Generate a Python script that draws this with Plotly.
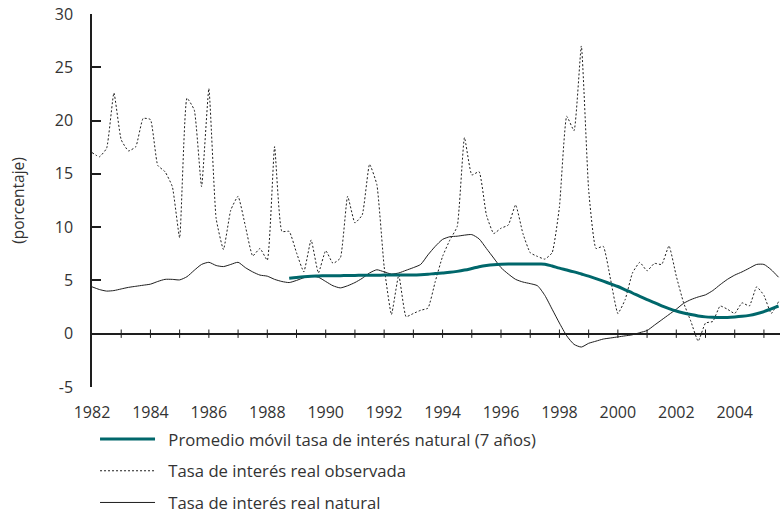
import plotly.graph_objects as go

# Quarterly observations, 1982Q1 .. 2005Q3
start_year = 1982.0
observada = [
    17.0, 16.6, 17.4, 22.6, 18.2, 17.15, 17.55, 20.2,      # 1982-1983
    20.1, 15.8, 15.2, 13.8, 9.0, 22.1, 21.0, 13.8,         # 1984-1985
    23.0, 10.8, 7.9, 11.6, 12.9, 10.1, 7.3, 8.0,           # 1986-1987
    6.9, 17.55, 9.6, 9.6, 7.6, 5.8, 8.8, 5.7,              # 1988-1989
    7.8, 6.6, 7.1, 12.9, 10.4, 11.15, 15.9, 14.0,          # 1990-1991
    6.3, 1.8, 5.5, 1.6, 1.9, 2.2, 2.4, 4.9,                # 1992-1993
    7.25, 8.8, 10.05, 18.4, 14.9, 15.2, 11.15, 9.4,        # 1994-1995
    9.9, 10.2, 12.1, 9.4, 7.6, 7.25, 7.0, 7.6,             # 1996-1997
    11.9, 20.4, 19.05, 27.0, 13.5, 8.0, 8.2, 5.1,          # 1998-1999
    1.9, 3.2, 5.7, 6.7, 5.9, 6.6, 6.5, 8.25,               # 2000-2001
    5.4, 2.9, 1.15, -0.7, 1.0, 1.15, 2.6, 2.3,             # 2002-2003
    1.9, 2.9, 2.6, 4.4, 3.6, 1.9, 3.0,                     # 2004-2005
]
natural = [
    4.4, 4.15, 4.0, 4.05, 4.2, 4.35, 4.45, 4.55,
    4.65, 4.9, 5.1, 5.1, 5.05, 5.35, 5.95, 6.5,
    6.7, 6.4, 6.3, 6.5, 6.7, 6.2, 5.8, 5.5,
    5.4, 5.1, 4.9, 4.8, 5.0, 5.25, 5.4, 5.3,
    4.9, 4.5, 4.3, 4.5, 4.8, 5.2, 5.7, 6.0,
    5.8, 5.6, 5.7, 5.95, 6.2, 6.5, 7.4, 8.2,
    8.85, 9.1, 9.15, 9.25, 9.3, 8.9, 8.0, 7.1,
    6.2, 5.6, 5.1, 4.85, 4.7, 4.5, 3.6, 2.3,
    1.0, -0.2, -1.0, -1.25, -0.9, -0.7, -0.5, -0.4,
    -0.3, -0.2, -0.1, 0.1, 0.3, 0.8, 1.3, 1.8,
    2.3, 2.85, 3.2, 3.45, 3.65, 4.05, 4.6, 5.1,
    5.5, 5.8, 6.15, 6.5, 6.5, 6.0, 5.3,
]
# 7-year moving average, available from 1988Q4
ma_start_year = 1988.75
promedio_movil = [
    5.2, 5.28, 5.35, 5.4, 5.42, 5.44, 5.45, 5.45,          # 1988Q4-1990Q3
    5.46, 5.47, 5.48, 5.48, 5.49, 5.5, 5.5, 5.5,           # 1990Q4-1992Q3
    5.5, 5.5, 5.53, 5.58, 5.65, 5.7, 5.76, 5.85,           # 1992Q4-1994Q3
    5.97, 6.12, 6.28, 6.4, 6.48, 6.52, 6.53, 6.53,         # 1994Q4-1996Q3
    6.53, 6.53, 6.53, 6.52, 6.35, 6.15, 5.98, 5.8,         # 1996Q4-1998Q3
    5.6, 5.4, 5.17, 4.93, 4.68, 4.43, 4.12, 3.82,          # 1998Q4-2000Q3
    3.5, 3.2, 2.92, 2.62, 2.36, 2.13, 1.95, 1.8,           # 2000Q4-2002Q3
    1.67, 1.58, 1.54, 1.52, 1.53, 1.57, 1.63, 1.72,        # 2002Q4-2004Q3
    1.87, 2.07, 2.33, 2.6,                                 # 2004Q4-2005Q3
]
year_ticks = list(range(1982, 2005, 2))
minor_years = list(range(1983, 2006))
y_ticks = list(range(-5, 31, 5))

x_obs = [start_year + 0.25 * i for i in range(len(observada))]
x_nat = [start_year + 0.25 * i for i in range(len(natural))]
x_ma = [ma_start_year + 0.25 * i for i in range(len(promedio_movil))]

FONT = "Open Sans"
TEAL = "#00676b"
INK = "#1e1e1e"
LABEL = "#333333"
PAD = "\u2002"  # small lead-in so labels sit clear of the line samples

fig = go.Figure()

fig.add_trace(go.Scatter(
    x=x_nat, y=natural, mode="lines", name=PAD + "Tasa de interés real natural",
    line=dict(color=INK, width=1, shape="spline", smoothing=0.6),
    legendrank=3, legendgroup="c",
))
fig.add_trace(go.Scatter(
    x=x_obs, y=observada, mode="lines", name=PAD + "Tasa de interés real observada",
    line=dict(color=INK, width=1, dash="2px,2px", shape="spline", smoothing=0.4),
    legendrank=2, legendgroup="b",
))
fig.add_trace(go.Scatter(
    x=x_ma, y=promedio_movil, mode="lines",
    name=PAD + "Promedio móvil tasa de interés natural (7 años)",
    line=dict(color=TEAL, width=3, shape="spline", smoothing=0.8),
    legendrank=1, legendgroup="a",
))
# small crossing tick marks along the zero line
fig.add_trace(go.Scatter(
    x=minor_years, y=[0] * len(minor_years), mode="markers",
    marker=dict(symbol="line-ns", size=6, line=dict(color=INK, width=1)),
    showlegend=False, hoverinfo="skip",
))

fig.update_layout(
    width=780, height=513,
    margin=dict(l=92, r=0, t=14, b=126, autoexpand=False),
    paper_bgcolor="white", plot_bgcolor="white",
    font=dict(family=FONT, size=16, color=LABEL),
    showlegend=True,
    legend=dict(
        x=0.0044, xanchor="left",
        y=-0.093, yanchor="top",
        traceorder="grouped", tracegroupgap=7,
        itemwidth=55,
        font=dict(family=FONT, size=16.7, color=LABEL),
        bgcolor="rgba(0,0,0,0)",
    ),
    xaxis=dict(
        range=[1982, 2005.55],
        tickvals=year_ticks, ticktext=[str(y) for y in year_ticks],
        showline=False, showgrid=False, zeroline=False, ticks="",
        ticklabelstandoff=14,
        tickfont=dict(family=FONT, size=16, color=LABEL),
    ),
    yaxis=dict(
        range=[-5, 30],
        tickvals=y_ticks, ticktext=[str(v) for v in y_ticks],
        showline=True, linecolor=INK, linewidth=1.5,
        ticks="inside", ticklen=9, tickcolor=INK, tickwidth=1.5,
        ticklabelstandoff=14,
        showgrid=False,
        zeroline=True, zerolinecolor=INK, zerolinewidth=1.5,
        tickfont=dict(family=FONT, size=16, color=LABEL),
        title=dict(text="(porcentaje)", font=dict(family=FONT, size=15.5, color=LABEL), standoff=26),
    ),
)

fig.write_html("out.html")
